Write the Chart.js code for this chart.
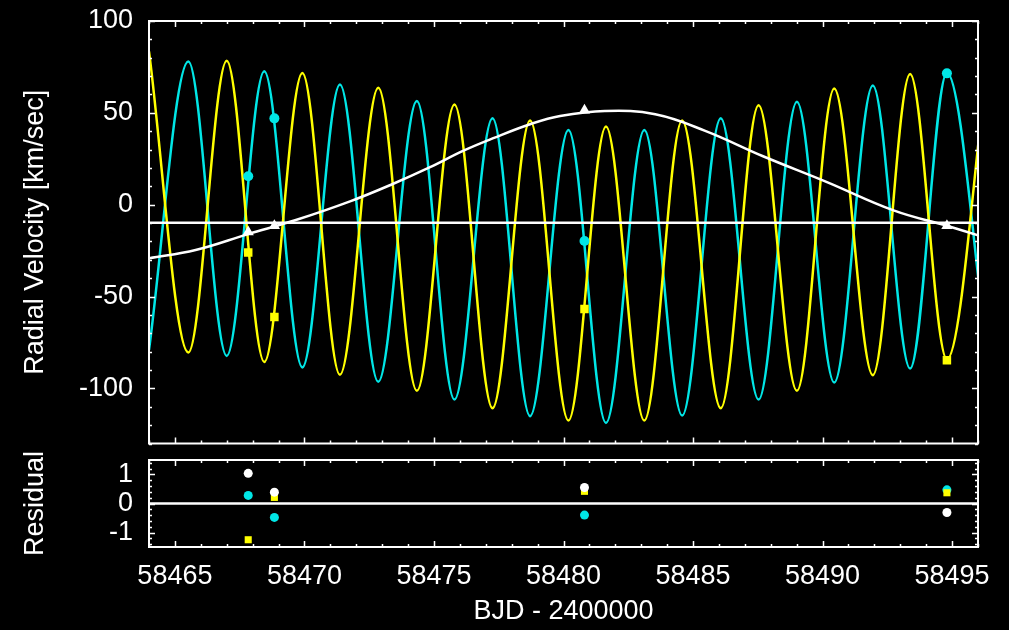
<!DOCTYPE html>
<html>
<head>
<meta charset="utf-8">
<title>Radial velocity</title>
<script src="https://cdn.jsdelivr.net/npm/chart.js@4/dist/chart.umd.min.js"></script>
<style>
    html, body { margin: 0; padding: 0; background: #000; }
    #rv-box { position: absolute; left: 0; top: 0; width: 1009px; height: 450px; }
    #res-box { position: absolute; left: 0; top: 450px; width: 1009px; height: 180px; }
</style>
</head>
<body>
<div id="rv-box"><canvas id="rv"></canvas></div>
<div id="res-box"><canvas id="res"></canvas></div>
<script>
// observation epochs (BJD - 2400000)
var obsDays = [58467.83, 58468.84, 58480.81, 58494.80];

// measured velocities, km/sec
var obsRvA = [15.5, 47.0, -19.8, 71.5];      // primary (cyan)
var obsRvB = [-26.0, -61.1, -56.8, -84.7];   // secondary (yellow)
var obsRvC = [-14.8, -11.5, 51.4, -11.5];    // tertiary (white)

// O-C residuals
var resA = [0.28, -0.48, -0.40, 0.47];
var resB = [-1.25, 0.21, 0.42, 0.37];
var resC = [1.04, 0.39, 0.55, -0.31];

// turning points of the inner orbit model
var turnDays = [
    58464.00, 58465.52, 58467.00, 58468.45, 58469.92, 58471.37, 58472.85,
    58474.34, 58475.79, 58477.26, 58478.71, 58480.19, 58481.64, 58483.12,
    58484.58, 58486.07, 58487.53, 58489.01, 58490.45, 58491.94, 58493.38,
    58494.80, 58496.38
];
var modelA = [
    -79.0, 78.0, -82.3, 72.6, -88.6, 65.4, -96.4, 56.4, -106.1, 47.0, -115.1,
    40.7, -118.8, 40.7, -114.8, 47.0, -106.1, 56.0, -96.8, 64.9, -89.2, 71.8, -82.5
];
var modelB = [
    83.5, -80.5, 78.4, -85.6, 71.7, -92.6, 63.6, -101.3, 54.6, -110.8, 45.9,
    -117.5, 42.5, -117.5, 45.9, -110.8, 54.2, -101.3, 63.2, -92.8, 71.2, -84.2, 78.0
];

// outer orbit model
var outerDays = [
    58464.0, 58465.8, 58467.83, 58469.64, 58471.76, 58473.43, 58474.85,
    58476.14, 58477.29, 58478.71, 58479.87, 58481.6, 58483.54, 58485.47,
    58487.68, 58490.17, 58492.74, 58494.80, 58496.0
];
var outerRv = [
    -29.2, -24.7, -16.0, -8.5, 1.8, 11.4, 20.4, 29.4, 36.2, 43.8, 48.3, 51.0,
    49.2, 40.2, 26.5, 12.3, -3.1, -11.5, -16.6
];
var gammaRv = -9.8;

var xTickValues = [58465, 58470, 58475, 58480, 58485, 58490, 58495];
var rvTickValues = [100, 50, 0, -50, -100];
var resTickValues = [1, 0, -1];

var CYAN = "#00e6e6";
var YELLOW = "#ffff00";
var WHITE = "#ffffff";
var FONT = { family: "Liberation Sans", size: 27 };

function pairs(xs, ys) {
    return xs.map(function (x, i) {
        return { x: x, y: ys[i] };
    });
}

function fixedTicks(values) {
    return function (scale) {
        scale.ticks = values.map(function (v) {
            return { value: v };
        });
    };
}

// gnuplot-like border with inward ticks on all four sides
var frameTicks = {
    id: "frameTicks",
    afterDatasetsDraw: function (chart, args, opts) {
        var ctx = chart.ctx;
        var a = chart.chartArea;
        var xs = chart.scales.x;
        var ys = chart.scales.y;
        var major = 6, minor = 3;

        function steps(min, max, step) {
            var out = [];
            var start = Math.ceil(min / step - 1e-9);
            var end = Math.floor(max / step + 1e-9);
            for (var k = start; k <= end; k++) out.push(k * step);
            return out;
        }
        function isMajor(v, step) {
            var r = Math.abs(v / step - Math.round(v / step));
            return r < 1e-6;
        }

        ctx.save();
        ctx.strokeStyle = WHITE;
        ctx.lineWidth = 1.5;
        ctx.beginPath();
        steps(xs.min, xs.max, opts.xMinor).forEach(function (v) {
            var len = isMajor(v, opts.xMajor) ? major : minor;
            var px = Math.round(xs.getPixelForValue(v)) + 0.5;
            ctx.moveTo(px, a.top); ctx.lineTo(px, a.top + len);
            ctx.moveTo(px, a.bottom); ctx.lineTo(px, a.bottom - len);
        });
        steps(ys.min, ys.max, opts.yMinor).forEach(function (v) {
            var len = isMajor(v, opts.yMajor) ? major : minor;
            var py = Math.round(ys.getPixelForValue(v)) + 0.5;
            ctx.moveTo(a.left, py); ctx.lineTo(a.left + len, py);
            ctx.moveTo(a.right, py); ctx.lineTo(a.right - len, py);
        });
        ctx.stroke();
        ctx.lineWidth = 2;
        ctx.strokeRect(a.left, a.top, a.right - a.left, a.bottom - a.top);
        ctx.restore();
    }
};

function leftAxis(min, max, ticks, title) {
    return {
        type: "linear",
        min: min,
        max: max,
        afterBuildTicks: fixedTicks(ticks),
        afterFit: function (scale) {
            scale.width = 149;
            scale.paddingTop = 0;
            scale.paddingBottom = 0;
        },
        grid: { display: false, drawTicks: false },
        border: { display: false },
        ticks: {
            color: WHITE,
            font: FONT,
            padding: 16,
            callback: function (v) { return String(v); }
        },
        title: {
            display: true,
            text: title,
            color: WHITE,
            font: FONT,
            padding: { top: 19, bottom: 0 }
        }
    };
}

document.addEventListener("DOMContentLoaded", function () {
    Chart.defaults.animation = false;

    var lineStyle = {
        type: "line",
        pointRadius: 0,
        borderWidth: 2.5,
        fill: false,
        cubicInterpolationMode: "monotone"
    };

    new Chart(document.getElementById("rv").getContext("2d"), {
        type: "scatter",
        data: {
            datasets: [
                Object.assign({}, lineStyle, { data: pairs(turnDays, modelA), borderColor: CYAN, order: 6 }),
                Object.assign({}, lineStyle, { data: pairs(turnDays, modelB), borderColor: YELLOW, order: 5 }),
                Object.assign({}, lineStyle, {
                    data: pairs(outerDays, outerRv),
                    borderColor: WHITE,
                    cubicInterpolationMode: "default",
                    tension: 0.4,
                    order: 4
                }),
                Object.assign({}, lineStyle, {
                    data: [{ x: 58464, y: gammaRv }, { x: 58496, y: gammaRv }],
                    borderColor: WHITE, order: 3
                }),
                { data: pairs(obsDays, obsRvA), pointStyle: "circle", pointRadius: 5, backgroundColor: CYAN, borderWidth: 0, order: 2 },
                { data: pairs(obsDays, obsRvB), pointStyle: "rect", pointRadius: 6, backgroundColor: YELLOW, borderWidth: 0, order: 1 },
                { data: pairs(obsDays, obsRvC), pointStyle: "triangle", pointRadius: 6.5, backgroundColor: WHITE, borderWidth: 0, order: 0 }
            ]
        },
        options: {
            responsive: true,
            maintainAspectRatio: false,
            layout: { padding: { top: 21, right: 31, bottom: 4, left: 0 } },
            plugins: {
                legend: { display: false },
                tooltip: { enabled: false },
                frameTicks: { xMinor: 1, xMajor: 5, yMinor: 10, yMajor: 50 }
            },
            scales: {
                x: { type: "linear", min: 58464, max: 58496, display: false },
                y: leftAxis(-130, 100, rvTickValues, "Radial Velocity [km/sec]")
            }
        },
        plugins: [frameTicks]
    });

    new Chart(document.getElementById("res").getContext("2d"), {
        type: "scatter",
        data: {
            datasets: [
                Object.assign({}, lineStyle, {
                    data: [{ x: 58464, y: 0 }, { x: 58496, y: 0 }],
                    borderColor: WHITE, order: 3
                }),
                { data: pairs(obsDays, resA), pointStyle: "circle", pointRadius: 4.5, backgroundColor: CYAN, borderWidth: 0, order: 2 },
                { data: pairs(obsDays, resB), pointStyle: "rect", pointRadius: 5, backgroundColor: YELLOW, borderWidth: 0, order: 1 },
                { data: pairs(obsDays, resC), pointStyle: "circle", pointRadius: 4.5, backgroundColor: WHITE, borderWidth: 0, order: 0 }
            ]
        },
        options: {
            responsive: true,
            maintainAspectRatio: false,
            layout: { padding: { top: 10, right: 31, bottom: 0, left: 0 } },
            plugins: {
                legend: { display: false },
                tooltip: { enabled: false },
                frameTicks: { xMinor: 1, xMajor: 5, yMinor: 0.2, yMajor: 1 }
            },
            scales: {
                x: {
                    type: "linear",
                    min: 58464,
                    max: 58496,
                    afterBuildTicks: fixedTicks(xTickValues),
                    afterFit: function (scale) {
                        scale.height = 83;
                        scale.paddingLeft = 0;
                        scale.paddingRight = 0;
                    },
                    grid: { display: false, drawTicks: false },
                    border: { display: false },
                    ticks: {
                        color: WHITE,
                        font: FONT,
                        padding: 13,
                        maxRotation: 0,
                        autoSkip: false,
                        callback: function (v) { return String(v); }
                    },
                    title: {
                        display: true,
                        text: "BJD - 2400000",
                        color: WHITE,
                        font: FONT,
                        padding: { top: 0, bottom: 2 }
                    }
                },
                y: leftAxis(-1.5, 1.5, resTickValues, "Residual")
            }
        },
        plugins: [frameTicks]
    });
});
</script>
</body>
</html>
